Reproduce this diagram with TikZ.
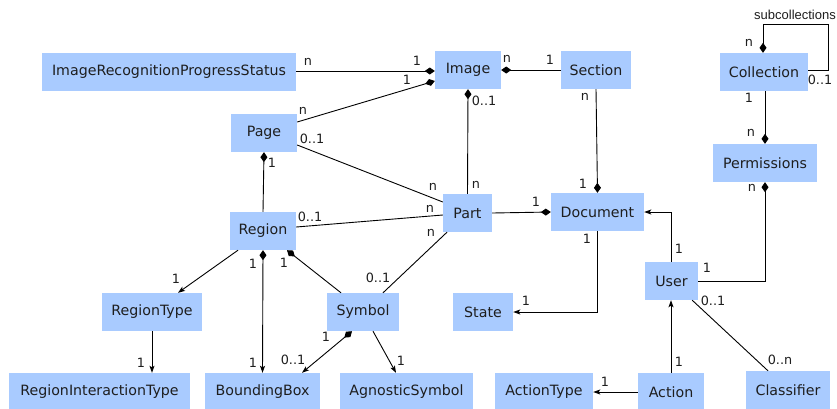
\documentclass[tikz,border=0pt]{standalone}
\usepackage{fontspec}
\setmainfont{DejaVu Sans}
\newfontfamily\loopfont{Liberation Sans}
\usetikzlibrary{arrows.meta}
\definecolor{boxblue}{RGB}{169,203,255}
\definecolor{ink}{RGB}{30,30,30}
\tikzset{
  dmd/.tip={Diamond[length=10pt,width=7pt]},
  arw/.tip={Stealth[length=7pt,width=5pt,inset=1.5pt]},
}
\begin{document}
\begin{tikzpicture}[x=1pt,y=-1pt,
  entity/.style={fill=boxblue, draw=none, minimum height=38pt, inner sep=0pt,
    font=\fontsize{14.2}{16}\selectfont, text=ink},
  mult/.style={font=\fontsize{12.8}{14}\selectfont, text=ink, inner sep=0pt},
  conn/.style={line width=0.9pt, draw=black},
]
\useasboundingbox (0,0) rectangle (837,408);

% entities
\node[entity, minimum width=254pt] (irps) at (169,72) {ImageRecognitionProgressStatus};
\node[entity, minimum width=66pt] (page) at (264,133) {Page};
\node[entity, minimum width=66pt] (image) at (468,70) {Image};
\node[entity, minimum width=70pt] (section) at (596,70) {Section};
\node[entity, minimum width=88pt] (collection) at (764,72) {Collection};
\node[entity, minimum width=104pt] (permissions) at (765,163) {Permissions};
\node[entity, minimum width=49pt] (part) at (467.5,213) {Part};
\node[entity, minimum width=93pt] (document) at (597.5,212) {Document};
\node[entity, minimum width=66pt] (region) at (263,231) {Region};
\node[entity, minimum width=100pt] (regiontype) at (152,312) {RegionType};
\node[entity, minimum width=72pt] (symbol) at (363,312) {Symbol};
\node[entity, minimum width=60pt] (state) at (483,312) {State};
\node[entity, minimum width=53pt] (user) at (671.5,281) {User};
\node[entity, minimum width=181pt] (rit) at (99.5,392) {RegionInteractionType};
\node[entity, minimum width=115pt] (bbox) at (262.5,392) {BoundingBox};
\node[entity, minimum width=133pt] (agnostic) at (406.5,392) {AgnosticSymbol};
\node[entity, minimum width=98pt] (actiontype) at (544,392) {ActionType};
\node[entity, minimum width=66pt] (action) at (671,392) {Action};
\node[entity, minimum width=84pt] (classifier) at (788,390) {Classifier};

% associations
\draw[conn,-dmd] ([yshift=1pt]irps.east) -- ([yshift=-1pt]image.west);
\draw[conn,-dmd] ([yshift=11pt]page.east) -- ([yshift=-11pt]image.west);
\draw[conn,-dmd] (section.west) -- (image.east);
\draw[conn,dmd-] (image.south) -- (part.north);
\draw[conn,-dmd] (section.south) -- (document.north);
\draw[conn] ([yshift=-12pt]page.east) -- ([yshift=11pt]part.west);
\draw[conn] ([yshift=4pt]region.east) -- ([yshift=-2pt]part.west);
\draw[conn] ([xshift=20pt]symbol.north) -- ([xshift=-20.5pt]part.south);
\draw[conn,-dmd] (part.east) -- (document.west);
\draw[conn,-dmd] (region.north) -- (page.south);
\draw[conn,-arw] ([xshift=-25pt]region.south) -- ([xshift=26pt]regiontype.north);
\draw[conn,dmd-arw] (region.south) -- (bbox.north);
\draw[conn,-dmd] ([xshift=-22pt]symbol.north) -- ([xshift=24pt]region.south);
\draw[conn,dmd-arw] ([xshift=-11pt]symbol.south) -- ([xshift=39.5pt]bbox.north);
\draw[conn,-arw] ([xshift=10pt]symbol.south) -- ([xshift=-10.5pt]agnostic.north);
\draw[conn,-arw] (regiontype.south) -- (regiontype.south |- rit.north);
\draw[conn,-arw] ([xshift=-0.5pt]document.south) |- (state.east);
\draw[conn,-arw] (user.north) |- (document.east);
\draw[conn,-dmd] (user.east) -| (permissions.south);
\draw[conn,-dmd] ([xshift=1pt]collection.south) -- (permissions.north);
\draw[conn,-dmd] ([yshift=2pt]collection.east)
  -| ([xshift=20pt,yshift=28pt]collection.north east) coordinate (loopc)
  -| ([xshift=-1pt]collection.north);
\draw[conn,-arw] (action.north) -- ([xshift=-0.5pt]user.south);
\draw[conn,-arw] (action.west) -- (actiontype.east);
\draw[conn] ([xshift=-6pt]user.south east) -- ([xshift=-20pt]classifier.north);

% multiplicities
\node[mult] (m1) at (308,62) {n};
\node[mult] (m2) at (417,61) {1};
\node[mult] (m3) at (407,80) {1};
\node[mult] (m4) at (303,111) {n};
\node[mult] (m5) at (312,139) {0..1};
\node[mult] (m6) at (272,163) {1};
\node[mult] (m7) at (507,59) {n};
\node[mult] (m8) at (550,60) {1};
\node[mult] (m9) at (484,101) {0..1};
\node[mult] (m10) at (585,97) {n};
\node[mult] (m11) at (476,185) {n};
\node[mult] (m12) at (433,187) {n};
\node[mult] (m13) at (583,184) {1};
\node[mult] (m14) at (430,209) {n};
\node[mult] (m15) at (310,217) {0..1};
\node[mult] (m16) at (431,233) {n};
\node[mult] (m17) at (536,202) {1};
\node[mult] (m18) at (176,279) {1};
\node[mult] (m19) at (253,264) {1};
\node[mult] (m20) at (284,263) {1};
\node[mult] (m21) at (378,278) {0..1};
\node[mult] (m22) at (326,337) {1};
\node[mult] (m23) at (293,360) {0..1};
\node[mult] (m24) at (141,363) {1};
\node[mult] (m25) at (253,363) {1};
\node[mult] (m26) at (401,361) {1};
\node[mult] (m27) at (587,239) {1};
\node[mult] (m28) at (679,249) {1};
\node[mult] (m29) at (707,268) {1};
\node[mult] (m30) at (526,301) {1};
\node[mult] (m31) at (713,301) {0..1};
\node[mult] (m32) at (679,362) {1};
\node[mult] (m33) at (780,360) {0..n};
\node[mult] (m34) at (605,382) {1};
\node[mult] (m35) at (749,43) {n};
\node[mult] (m36) at (820,80) {0..1};
\node[mult] (m37) at (749,98) {1};
\node[mult] (m38) at (751,133) {n};
\node[mult] (m39) at (752,188) {n};
\node[inner sep=0pt, text=ink, font=\loopfont\fontsize{13}{15}\selectfont] (sub) at (795,15) {subcollections};
\end{tikzpicture}
\end{document}
